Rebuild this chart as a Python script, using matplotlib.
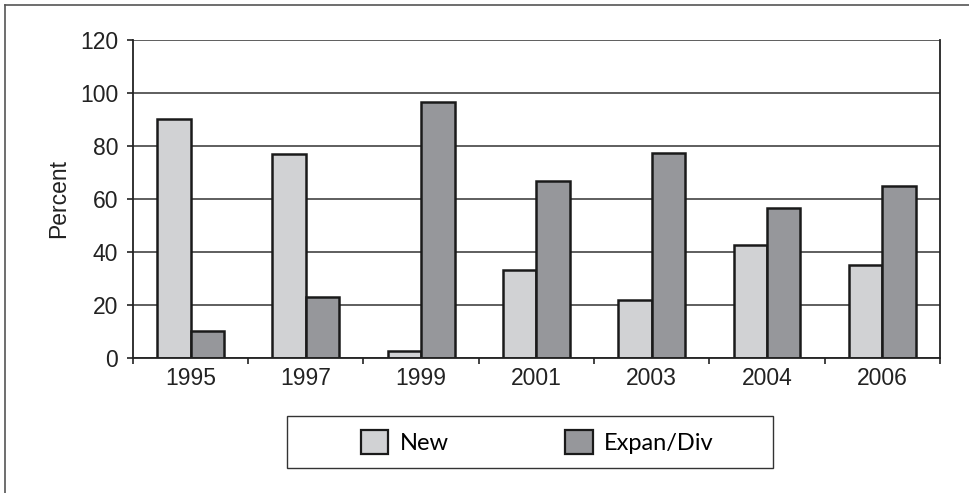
import matplotlib.pyplot as plt
from matplotlib.patches import Rectangle, Patch
from matplotlib.lines import Line2D

years = ['1995', '1997', '1999', '2001', '2003', '2004', '2006']
new = [90, 77, 2.6, 33, 21.7, 42.4, 35]
expan_div = [10, 23, 96.6, 66.8, 77.5, 56.7, 64.7]

new_color = '#d1d2d4'
exp_color = '#96979b'
edge = '#1a1a1a'

plt.rcParams['font.family'] = ['Liberation Sans', 'DejaVu Sans']

fig = plt.figure(figsize=(9.7, 4.93), dpi=100)
ax = fig.add_axes([0.137, 0.2744, 0.832, 0.6445])

w = 0.29
centers = [i + 0.5 for i in range(len(years))]
ax.bar([c - w / 2 for c in centers], new, width=w, color=new_color,
       edgecolor=edge, linewidth=1.8, zorder=3)
ax.bar([c + w / 2 for c in centers], expan_div, width=w, color=exp_color,
       edgecolor=edge, linewidth=1.8, zorder=3)

ax.set_xlim(0, len(years))
ax.set_ylim(0, 120)
ax.set_yticks(range(0, 121, 20))
ax.set_xticks(range(len(years) + 1))
ax.set_xticklabels([])
ax.set_xticks(centers, minor=True)
ax.set_xticklabels(years, minor=True)
ax.tick_params(axis='x', which='minor', length=0, pad=7, labelsize=16.5,
               labelcolor='#222222')
ax.tick_params(axis='x', which='major', length=4.5, width=1.2, color='#222222')
ax.tick_params(axis='y', length=4.5, width=1.2, color='#222222', pad=6,
               labelsize=16.5, labelcolor='#222222')
ax.grid(axis='y', color='#333333', linewidth=1.1, zorder=0)
for side in ['left', 'right', 'bottom']:
    ax.spines[side].set_color('#222222')
    ax.spines[side].set_linewidth(1.3)
ax.spines['top'].set_visible(False)
ax.spines['bottom'].set_zorder(4)
ax.set_ylabel('Percent', fontsize=16.5, labelpad=7, color='#222222')

# legend box
fig.patches.append(Rectangle((0.296, 0.0507), 0.501, 0.1055,
                             transform=fig.transFigure, fill=False,
                             edgecolor='#333333', linewidth=1.0))
handles = [Patch(facecolor=new_color, edgecolor=edge, linewidth=1.6),
           Patch(facecolor=exp_color, edgecolor=edge, linewidth=1.6)]
fig.legend(handles, ['New', 'Expan/Div'], loc='center',
           bbox_to_anchor=(0.554, 0.1035), ncol=2, frameon=False,
           prop={'family': 'Lato', 'size': 17}, handlelength=1.15,
           handleheight=1.15, handletextpad=0.47, columnspacing=4.95)

# border lines (top and left only)
fig.lines.append(Line2D([5 / 970, 1], [1 - 5 / 493] * 2,
                        transform=fig.transFigure, color='#555555', lw=1.2))
fig.lines.append(Line2D([5 / 970] * 2, [0, 1 - 5 / 493],
                        transform=fig.transFigure, color='#555555', lw=1.2))

fig.savefig('out.png', dpi=100)
